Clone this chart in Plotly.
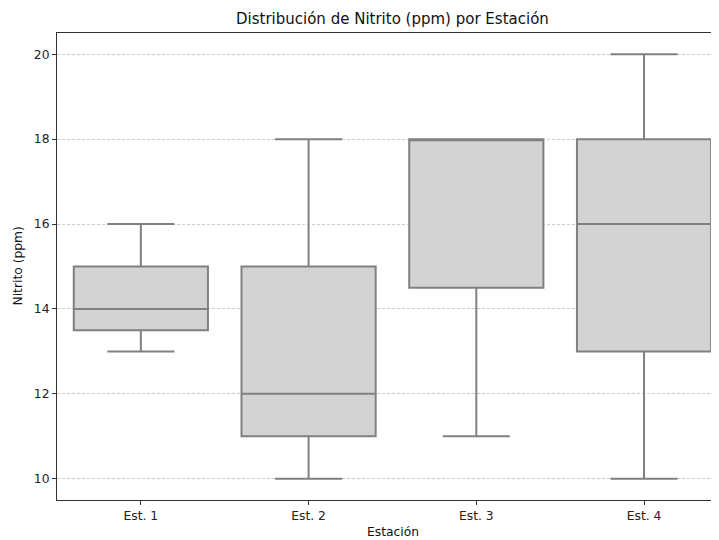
import plotly.graph_objects as go

estaciones = ["Est. 1", "Est. 2", "Est. 3", "Est. 4"]
minimo = [13, 10, 11, 10]
q1 = [13.5, 11, 14.5, 13]
mediana = [14, 12, 18, 16]
q3 = [15, 15, 18, 18]
maximo = [16, 18, 18, 20]
y_ticks = [10, 12, 14, 16, 18, 20]

# page body has an 8px default margin
OFF = 8
W, H = 719 - OFF, 540 - OFF
L, R, T, B = 57 - OFF, 2, 33 - OFF, 40
PW = W - L - R

fig = go.Figure()
fig.add_trace(go.Box(
    x=estaciones,
    q1=q1, median=mediana, q3=q3,
    lowerfence=minimo, upperfence=maximo,
    fillcolor="#d3d3d3",
    line=dict(color="#808080", width=2),
    whiskerwidth=0.5,
    boxpoints=False,
    showlegend=False,
    hoverinfo="skip",
))

font = "DejaVu Sans, sans-serif"
TICK = 12.3
fig.update_layout(
    width=W, height=H,
    margin=dict(l=L, r=R, t=T, b=B, pad=0, autoexpand=False),
    paper_bgcolor="white", plot_bgcolor="white",
    boxgap=0.2, boxgroupgap=0,
    font=dict(family=font, size=TICK, color="#222"),
    xaxis=dict(
        type="category",
        range=[-0.5, 3.435],
        automargin=False,
        showline=True, linecolor="#333", linewidth=1.1, mirror=True,
        ticks="outside", ticklen=4, tickcolor="#333",
        showgrid=False, zeroline=False,
        tickfont=dict(size=TICK, family=font, color="#222"),
    ),
    yaxis=dict(
        range=[9.5, 20.5],
        automargin=False,
        tickvals=y_ticks,
        ticktext=[str(v) for v in y_ticks],
        showline=True, linecolor="#333", linewidth=1.1,
        ticks="outside", ticklen=4, tickcolor="#333",
        showgrid=True, gridcolor="#cccccc", gridwidth=0.8, griddash="3px,2px",
        zeroline=False,
        tickfont=dict(size=TICK, family=font, color="#222"),
    ),
    annotations=[
        dict(text="Distribución de Nitrito (ppm) por Estación", xref="paper", yref="paper",
             x=(393 - 57) / PW, y=1, yshift=3, xanchor="center", yanchor="bottom",
             showarrow=False, font=dict(size=15, family=font, color="#111")),
        dict(text="Estación", xref="paper", yref="paper",
             x=(393 - 57) / PW, y=0, yshift=-23, xanchor="center", yanchor="top",
             showarrow=False, font=dict(size=TICK, family=font, color="#111")),
        dict(text="Nitrito (ppm)", xref="paper", yref="paper",
             x=0, xshift=-31, y=0.5, xanchor="right", yanchor="middle", textangle=-90,
             showarrow=False, font=dict(size=TICK, family=font, color="#111")),
    ],
)

fig.write_html("out.html")
